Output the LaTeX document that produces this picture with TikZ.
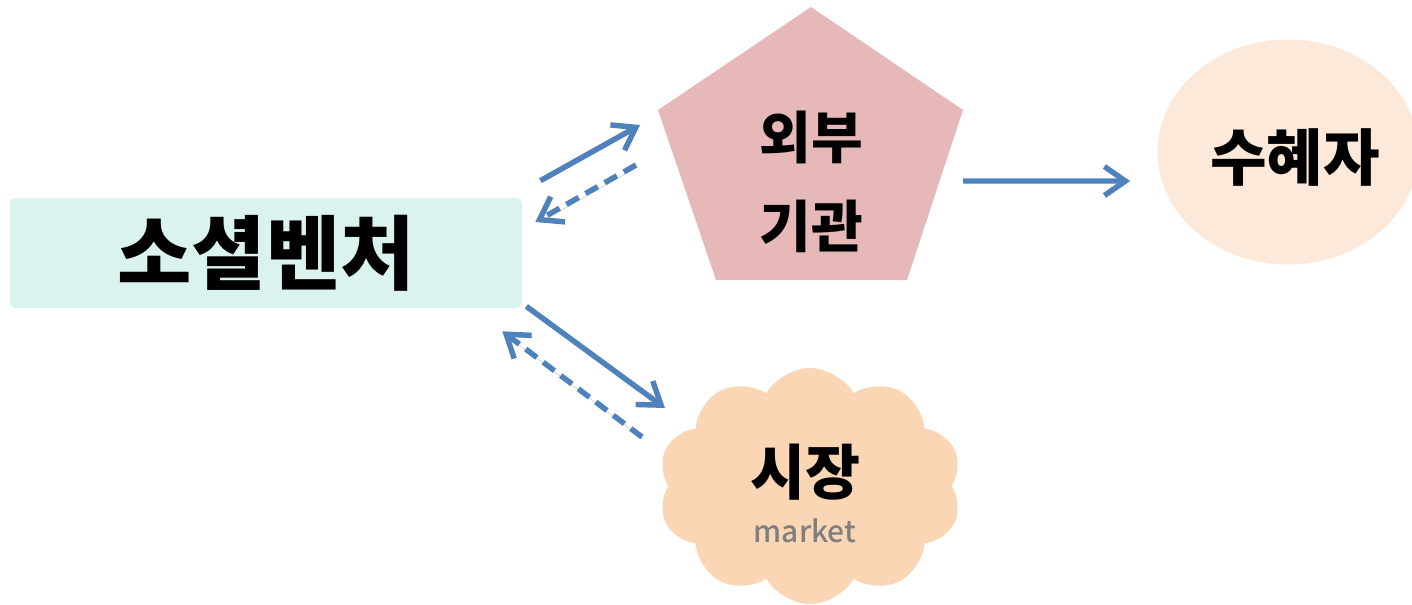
\documentclass[tikz,border=0pt]{standalone}
\usepackage{fontspec}
\setmainfont{Noto Sans CJK KR}
\newfontfamily\medfont{Noto Sans CJK KR Medium}
\usepackage{tikz}
\usetikzlibrary{arrows.meta, positioning, shapes.geometric, shapes.symbols}
\definecolor{venturemint}{HTML}{DAF3EE}
\definecolor{agencypink}{HTML}{E6B8B7}
\definecolor{benefitpeach}{HTML}{FDE9D9}
\definecolor{marketpeach}{HTML}{FAD6B4}
\definecolor{flowblue}{HTML}{4F81BD}
\definecolor{subgray}{HTML}{7F7F7F}
\tikzset{
    flow/.style={draw=flowblue, line width=3.1pt, -{Straight Barb[length=0.42cm, width=0.58cm]},
        preaction={draw=black!18, transform canvas={shift={(0.8pt,-1.2pt)}}}},
    backflow/.style={flow, dash pattern=on 8pt off 4.5pt},
    bigtext/.style={font=\bfseries\fontsize{#1}{#1}\selectfont, inner sep=0pt}
}

\begin{document}
\begin{tikzpicture}
    \useasboundingbox (0, 0) rectangle (28.24, 12.08);

    % Social venture box
    \node[fill=venturemint, rounded corners=0.12cm, minimum width=10.24cm, minimum height=2.2cm,
          bigtext=46] (venture) at (5.32, 7.02) {소셜벤처};

    % External agency (pentagon)
    \fill[agencypink] (16.22, 11.94) -- (19.26, 9.88) -- (18.14, 6.48) -- (14.32, 6.48) -- (13.16, 9.88) -- cycle;
    \node[bigtext=32, align=center, font=\bfseries\fontsize{32}{51}\selectfont] (agency) at (16.22, 8.44) {외부\\기관};

    % Beneficiary
    \node[ellipse, fill=benefitpeach, minimum width=5.22cm, minimum height=4.5cm] (beneficiary) at (25.76, 9.04) {};
    \node[bigtext=35] (benefittext) at (25.9, 8.94) {수혜자};

    % Market (cloud)
    \node[cloud, cloud puffs=10, cloud puff arc=120, aspect=1.3, fill=marketpeach,
          minimum width=6.08cm, minimum height=4.72cm] (market) at (16.2, 2.36) {};
    \node[bigtext=34] (marketkr) at (16.1, 2.64) {시장};
    \node[font=\medfont\fontsize{17}{17}\selectfont, text=subgray, inner sep=0pt] (marketen) at (16.1, 1.46) {market};

    % Flows
    \draw[flow] ([shift={(0.36, 0.34)}]venture.north east) -- ([shift={(-3.42, 1.14)}]agency.center);
    \draw[backflow] ([shift={(-3.5, 0.34)}]agency.center) -- ([shift={(0.26, 0.62)}]venture.east);
    \draw[flow] ([shift={(3.04, 0.02)}]agency.center) -- ([shift={(-0.54, -0.58)}]beneficiary.west);
    \draw[flow] ([shift={(0.08, 0.04)}]venture.south east) -- ([shift={(-2.9, 1.56)}]market.center);
    \draw[backflow] ([shift={(-3.36, 0.98)}]market.center) -- ([shift={(-0.4, -0.46)}]venture.south east);
\end{tikzpicture}
\end{document}
